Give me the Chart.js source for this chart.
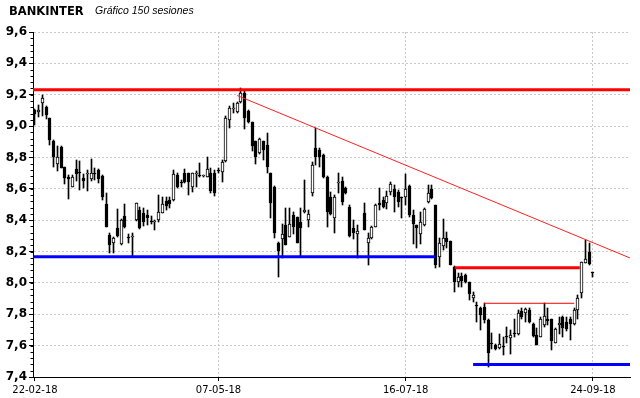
<!DOCTYPE html>
<html>
<head>
<meta charset="utf-8">
<script src="https://cdn.jsdelivr.net/npm/chart.js@4.4.1/dist/chart.umd.min.js"></script>
<style>
  body { margin: 0; background: #fff; }
  #wrap { position: relative; width: 640px; height: 398px; }
  .ttl { position: absolute; top: 4px; line-height: 14px; color: #000; white-space: nowrap; }
  #name { left: 9px; font: bold 11.5px 'DejaVu Sans', sans-serif; }
  #sub { left: 95px; font: italic 10.5px 'Liberation Sans', Arial, sans-serif; }
</style>
</head>
<body>
<div id="wrap">
  <canvas id="candleChart"></canvas>
  <div class="ttl" id="name">BANKINTER</div>
  <div class="ttl" id="sub">Gráfico 150 sesiones</div>
</div>
<script>
// OHLC per session (index 87 has no candle)
const opens = [
  9.10, 9.09, 9.15, 9.12, 9.05, 8.905, 8.757, 8.865, 8.738, 8.678,
  8.614, 8.725, 8.70, 8.667, 8.692, 8.661, 8.696, 8.72, 8.684, 8.503,
  8.306, 8.252, 8.348, 8.248, 8.427, 8.295, 8.295, 8.401, 8.465, 8.448,
  8.433, 8.392, 8.39, 8.401, 8.448, 8.525, 8.529, 8.529, 8.689, 8.637,
  8.704, 8.699, 8.614, 8.694, 8.683, 8.682, 8.678, 8.699, 8.699, 8.717,
  8.71, 8.78, 9.036, 9.107, 9.087, 9.151, 9.214, 9.097, 9.023, 8.902,
  8.827, 8.902, 8.88, 8.699, 8.61, 8.257, 8.278, 8.37, 8.295, 8.433,
  8.422, 8.39, 8.451, 8.401, 8.576, 8.859, 8.85, 8.816, 8.678, 8.55,
  8.412, 8.635, 8.65, 8.604, 8.482, 8.352, 8.312, null, 8.444, 8.257,
  8.284, 8.359, 8.508, 8.529, 8.512, 8.582, 8.597, 8.582, 8.541, 8.55,
  8.619, 8.43, 8.37, 8.312, 8.37, 8.518, 8.597, 8.497, 8.163, 8.236,
  8.284, 8.27, 8.104, 8.008, 8.044, 8.05, 8.008, 7.901, 7.853, 7.837,
  7.844, 7.763, 7.616, 7.603, 7.582, 7.594, 7.656, 7.646, 7.674, 7.673,
  7.822, 7.805, 7.827, 7.737, 7.667, 7.656, 7.731, 7.773, 7.773, 7.618,
  7.731, 7.78, 7.752, 7.767, 7.737, 7.827, 7.933, 8.129, 8.199, 8.068
];
const highs = [
  9.11, 9.135, 9.20, 9.13, 9.05, 8.91, 8.875, 8.87, 8.74, 8.685,
  8.69, 8.785, 8.78, 8.695, 8.72, 8.79, 8.73, 8.725, 8.69, 8.576,
  8.32, 8.295, 8.47, 8.405, 8.503, 8.312, 8.316, 8.508, 8.487, 8.476,
  8.465, 8.427, 8.40, 8.561, 8.55, 8.546, 8.55, 8.721, 8.704, 8.657,
  8.725, 8.704, 8.704, 8.716, 8.763, 8.689, 8.806, 8.731, 8.72, 8.731,
  8.785, 9.065, 9.125, 9.146, 9.151, 9.245, 9.221, 9.10, 9.029, 8.905,
  8.923, 8.905, 8.955, 8.70, 8.619, 8.263, 8.376, 8.476, 8.476, 8.455,
  8.423, 8.48, 8.657, 8.465, 8.774, 8.987, 8.86, 8.82, 8.68, 8.582,
  8.561, 8.70, 8.678, 8.614, 8.497, 8.40, 8.37, null, 8.508, 8.316,
  8.36, 8.503, 8.604, 8.55, 8.589, 8.646, 8.625, 8.593, 8.545, 8.695,
  8.625, 8.465, 8.37, 8.455, 8.476, 8.625, 8.625, 8.50, 8.284, 8.406,
  8.327, 8.27, 8.108, 8.065, 8.06, 8.056, 8.008, 7.944, 7.88, 7.844,
  7.869, 7.767, 7.682, 7.61, 7.673, 7.657, 7.72, 7.699, 7.773, 7.827,
  7.837, 7.837, 7.837, 7.742, 7.71, 7.78, 7.869, 7.837, 7.773, 7.71,
  7.78, 7.788, 7.78, 7.78, 7.837, 7.922, 8.135, 8.274, 8.256, 8.07
];
const lows = [
  9.01, 9.06, 9.065, 9.045, 8.88, 8.74, 8.715, 8.73, 8.63, 8.533,
  8.61, 8.652, 8.593, 8.604, 8.589, 8.652, 8.657, 8.635, 8.529, 8.355,
  8.193, 8.193, 8.295, 8.242, 8.35, 8.257, 8.17, 8.397, 8.342, 8.363,
  8.369, 8.376, 8.338, 8.391, 8.444, 8.465, 8.476, 8.525, 8.604, 8.61,
  8.636, 8.561, 8.582, 8.614, 8.678, 8.678, 8.678, 8.576, 8.555, 8.699,
  8.646, 8.774, 8.987, 9.083, 9.083, 9.146, 8.98, 9.019, 8.838, 8.759,
  8.823, 8.785, 8.704, 8.412, 8.284, 8.04, 8.157, 8.242, 8.295, 8.312,
  8.252, 8.17, 8.444, 8.359, 8.555, 8.753, 8.74, 8.668, 8.355, 8.433,
  8.316, 8.572, 8.497, 8.567, 8.295, 8.278, 8.157, null, 8.335, 8.114,
  8.28, 8.355, 8.465, 8.476, 8.469, 8.561, 8.455, 8.482, 8.412, 8.497,
  8.423, 8.25, 8.22, 8.248, 8.365, 8.512, 8.533, 8.093, 8.104, 8.21,
  8.22, 8.112, 7.944, 7.972, 7.976, 8.002, 7.891, 7.88, 7.752, 7.699,
  7.742, 7.465, 7.576, 7.572, 7.576, 7.539, 7.62, 7.546, 7.652, 7.667,
  7.767, 7.752, 7.746, 7.656, 7.603, 7.652, 7.72, 7.731, 7.575, 7.618,
  7.673, 7.652, 7.695, 7.635, 7.731, 7.773, 7.901, 8.125, 8.114, 8.035
];
const closes = [
  9.08, 9.10, 9.18, 9.07, 8.91, 8.805, 8.80, 8.735, 8.672, 8.662,
  8.678, 8.695, 8.698, 8.653, 8.694, 8.699, 8.695, 8.661, 8.55, 8.359,
  8.242, 8.289, 8.299, 8.401, 8.355, 8.285, 8.297, 8.508, 8.348, 8.391,
  8.412, 8.39, 8.392, 8.455, 8.503, 8.491, 8.503, 8.695, 8.61, 8.635,
  8.646, 8.646, 8.699, 8.696, 8.681, 8.683, 8.725, 8.589, 8.572, 8.715,
  8.774, 9.05, 9.114, 9.109, 9.146, 9.214, 9.051, 9.029, 8.87, 8.802,
  8.917, 8.848, 8.738, 8.512, 8.316, 8.206, 8.312, 8.242, 8.376, 8.359,
  8.253, 8.35, 8.465, 8.44, 8.753, 8.806, 8.80, 8.678, 8.455, 8.44,
  8.55, 8.637, 8.519, 8.572, 8.299, 8.318, 8.33, null, 8.338, 8.284,
  8.355, 8.497, 8.497, 8.482, 8.555, 8.631, 8.55, 8.518, 8.539, 8.597,
  8.433, 8.373, 8.348, 8.391, 8.47, 8.576, 8.54, 8.114, 8.257, 8.284,
  8.263, 8.114, 8.008, 8.035, 8.014, 8.008, 7.929, 7.923, 7.851, 7.795,
  7.763, 7.554, 7.61, 7.576, 7.61, 7.592, 7.654, 7.667, 7.672, 7.81,
  7.78, 7.831, 7.752, 7.661, 7.603, 7.773, 7.788, 7.758, 7.631, 7.703,
  7.746, 7.71, 7.703, 7.737, 7.827, 7.901, 8.131, 8.15, 8.12, 8.066
];

// date labels sit on session indices
const xTickIdx = [0, 49, 99, 149];
const xTickLabels = ['22-02-18', '07-05-18', '16-07-18', '24-09-18'];
const yTicks = [7.4, 7.6, 7.8, 8.0, 8.2, 8.4, 8.6, 8.8, 9.0, 9.2, 9.4, 9.6];
const xMin = -0.53, xMax = 158.9;

// drawn support / resistance lines: [session, price]
const redTop   = [[xMin, 9.231], [xMax, 9.231]];
const blueMid  = [[xMin, 8.167], [106.8, 8.167]];
const redMid   = [[112.1, 8.097], [145.5, 8.097]];
const redThin  = [[119.9, 7.87], [144, 7.87]];
const blueLow  = [[117, 7.48], [xMax, 7.48]];
const trendDown = [[54, 9.195], [xMax, 8.159]];

const sessions = opens.map((o, i) => i).filter(i => opens[i] !== null);
const wickData = sessions.map(i => ({ x: i, y: [lows[i], highs[i]] }));
const bodyData = sessions.map(i => ({ x: i, y: [Math.min(opens[i], closes[i]), Math.max(opens[i], closes[i])] }));
const bodyColors = sessions.map(i => closes[i] >= opens[i] ? '#ffffff' : '#000000');

const pts = arr => arr.map(([x, y]) => ({ x, y }));
const lineSet = (arr, color, width) => ({
  type: 'line', data: pts(arr), borderColor: color, borderWidth: width,
  pointRadius: 0, fill: false, order: 0
});

// snap candle rectangles to whole pixels so wicks stay crisp
const snapBars = {
  id: 'snapBars',
  afterDatasetsUpdate(chart) {
    chart.data.datasets.forEach((ds, di) => {
      const meta = chart.getDatasetMeta(di);
      if (meta.type !== 'bar') return;
      meta.data.forEach(el => {
        el.x = Math.floor(el.x) + 0.5;
        el.y = Math.round(el.y);
        el.base = Math.round(el.base);
        if (el.base - el.y < 1) el.y = el.base - 1;
      });
    });
  }
};

// small ticks on the price axis, every 0.04
const minorTicks = {
  id: 'minorTicks',
  afterDraw(chart) {
    const y = chart.scales.y, ctx = chart.ctx, left = chart.chartArea.left;
    ctx.save();
    ctx.strokeStyle = '#000';
    ctx.lineWidth = 1;
    ctx.beginPath();
    for (let k = 0; k <= 55; k++) {
      const py = Math.round(y.getPixelForValue(7.4 + k * 0.04)) + 0.5;
      ctx.moveTo(left - 2.5, py);
      ctx.lineTo(left, py);
    }
    ctx.stroke();
    ctx.restore();
  }
};

new Chart(document.getElementById('candleChart'), {
  type: 'bar',
  data: {
    datasets: [
      { data: wickData, backgroundColor: '#000', barThickness: 1, grouped: false, order: 3 },
      { data: bodyData, backgroundColor: bodyColors, borderColor: '#000', borderWidth: 1,
        borderSkipped: false, barThickness: 3, minBarLength: 1, grouped: false, order: 2 },
      lineSet(redTop, '#ff0000', 3),
      lineSet(blueMid, '#0000ff', 3),
      lineSet(redMid, '#ff0000', 3),
      lineSet(redThin, '#ff0000', 1),
      lineSet(blueLow, '#0000ff', 3),
      lineSet(trendDown, '#ff2020', 1),
    ],
  },
  options: {
    responsive: true,
    maintainAspectRatio: false,
    animation: false,
    layout: { padding: { top: 32, right: 10, left: 0, bottom: 0 } },
    plugins: {
      legend: { display: false },
      tooltip: { enabled: false },
    },
    scales: {
      x: {
        type: 'linear',
        min: xMin,
        max: xMax,
        offset: false,
        afterFit: s => { s.height = 21; },
        afterBuildTicks: s => { s.ticks = xTickIdx.map(v => ({ value: v })); },
        ticks: {
          autoSkip: false,
          maxRotation: 0,
          padding: 3,
          color: '#000',
          font: { family: 'DejaVu Sans', size: 10 },
          callback: (v, i) => xTickLabels[i],
        },
        grid: {
          offset: false,
          color: c => c.index === 0 ? 'rgba(0,0,0,0)' : '#c8c8c8',
          tickColor: '#000',
          tickLength: 4,
        },
        border: { color: '#000', width: 1, dash: [2, 2] },
      },
      y: {
        min: 7.4,
        max: 9.6,
        afterFit: s => { s.width = 33; },
        afterBuildTicks: s => { s.ticks = yTicks.map(v => ({ value: v })); },
        ticks: {
          padding: 2,
          color: '#000',
          font: { family: 'DejaVu Sans', size: 12, weight: 'bold' },
          callback: v => v.toFixed(1).replace('.', ','),
        },
        grid: {
          color: '#c8c8c8',
          tickColor: '#000',
          tickLength: 4,
        },
        border: { color: '#000', width: 1, dash: [2, 2] },
      },
    },
  },
  plugins: [snapBars, minorTicks],
});
</script>
</body>
</html>
